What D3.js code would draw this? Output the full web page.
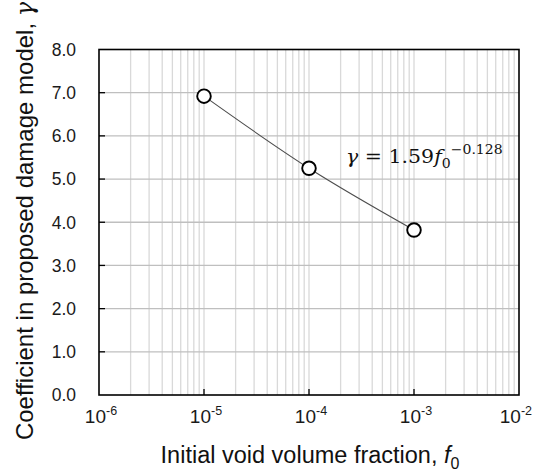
<!DOCTYPE html>
<html>
<head>
<meta charset="utf-8">
<script src="https://cdn.jsdelivr.net/npm/d3@7"></script>
<style>
  body { margin: 0; background: #fff; }
  text { font-family: "Liberation Sans", Arial, sans-serif; }
</style>
</head>
<body>
<script>
// data
var fracs = [1e-5, 1e-4, 1e-3];
var gammas = [6.92, 5.25, 3.82];
var yTicks = [0, 1, 2, 3, 4, 5, 6, 7, 8];
var xDecades = [-6, -5, -4, -3, -2];

var W = 533, H = 471;
var pLeft = 99, pRight = 519, pTop = 49.5, pBottom = 395;

var svg = d3.select("body").append("svg")
  .attr("width", W).attr("height", H);

var x = d3.scaleLog().domain([1e-6, 1e-2]).range([pLeft, pRight]);
var y = d3.scaleLinear().domain([0, 8]).range([pBottom, pTop]);

// vertical grid, every 1..9 of each decade
var minor = [];
for (var d = -6; d < -2; d++) {
  for (var k = 1; k < 10; k++) minor.push(k * Math.pow(10, d));
}
svg.append("g").selectAll("line")
  .data(minor.filter(function(v) { return v > 1e-6; }))
  .enter().append("line")
  .attr("x1", function(d) { return x(d); })
  .attr("x2", function(d) { return x(d); })
  .attr("y1", pTop).attr("y2", pBottom)
  .attr("stroke", "#d9d9d9").attr("stroke-width", 1.3);

// horizontal grid
svg.append("g").selectAll("line")
  .data(yTicks.slice(1, -1))
  .enter().append("line")
  .attr("x1", pLeft).attr("x2", pRight)
  .attr("y1", function(d) { return y(d); })
  .attr("y2", function(d) { return y(d); })
  .attr("stroke", "#bfbfbf").attr("stroke-width", 1.3);

// frame
svg.append("rect")
  .attr("x", pLeft).attr("y", pTop)
  .attr("width", pRight - pLeft).attr("height", pBottom - pTop)
  .attr("fill", "none").attr("stroke", "#000").attr("stroke-width", 1.6);

// inward ticks
svg.append("g").selectAll("line")
  .data(yTicks.slice(1, -1))
  .enter().append("line")
  .attr("x1", pLeft).attr("x2", pLeft + 6)
  .attr("y1", function(d) { return y(d); })
  .attr("y2", function(d) { return y(d); })
  .attr("stroke", "#000").attr("stroke-width", 1.3);
svg.append("g").selectAll("line")
  .data(xDecades.slice(1, -1))
  .enter().append("line")
  .attr("x1", function(d) { return x(Math.pow(10, d)); })
  .attr("x2", function(d) { return x(Math.pow(10, d)); })
  .attr("y1", pBottom).attr("y2", pBottom - 6)
  .attr("stroke", "#000").attr("stroke-width", 1.3);

// y tick labels
svg.append("g").selectAll("text")
  .data(yTicks)
  .enter().append("text")
  .attr("x", 76)
  .attr("y", function(d) { return y(d) + 6.3; })
  .attr("text-anchor", "end")
  .attr("font-size", 17.5)
  .attr("fill", "#1a1a1a")
  .text(function(d) { return d.toFixed(1); });

// x tick labels 10^n
var xl = svg.append("g").selectAll("text")
  .data(xDecades)
  .enter().append("text")
  .attr("y", 423)
  .attr("font-size", 19)
  .attr("fill", "#1a1a1a");
xl.append("tspan").text("10");
xl.append("tspan").attr("dy", -8).attr("font-size", 12.5).text(function(d) { return d; });
xl.each(function(d) {
  var w = this.getComputedTextLength();
  var cx = x(Math.pow(10, d)) + 2;
  var x0 = Math.min(cx - w / 2, W - 1 - w);
  d3.select(this).attr("x", x0);
});

// fit curve through the points
var pts = fracs.map(function(f, i) { return [f, gammas[i]]; });
svg.append("path")
  .datum(pts)
  .attr("d", d3.line()
    .x(function(d) { return x(d[0]); })
    .y(function(d) { return y(d[1]); })
    .curve(d3.curveNatural))
  .attr("fill", "none").attr("stroke", "#4d4d4d").attr("stroke-width", 1.1);

svg.append("g").selectAll("circle")
  .data(pts)
  .enter().append("circle")
  .attr("cx", function(d) { return x(d[0]); })
  .attr("cy", function(d) { return y(d[1]); })
  .attr("r", 6.8)
  .attr("fill", "#fff").attr("stroke", "#000").attr("stroke-width", 1.9);

// equation
var eq = svg.append("text")
  .attr("transform", "translate(346,162.5) scale(1.08,1)")
  .attr("font-size", 19)
  .style("font-family", "'DejaVu Serif', 'Liberation Serif', serif")
  .attr("fill", "#111");
eq.append("tspan").style("font-style", "italic").text("γ");
eq.append("tspan").text(" = 1.59");
eq.append("tspan").style("font-style", "italic").text("f");
eq.append("tspan").attr("dy", 5.5).attr("font-size", 13).text("0");
eq.append("tspan").attr("dy", -14).attr("font-size", 13).text("−0.128");

// axis titles
var xt = svg.append("text")
  .attr("x", 310).attr("y", 463)
  .attr("text-anchor", "middle")
  .attr("font-size", 23.5)
  .attr("fill", "#111");
xt.append("tspan").text("Initial void volume fraction, ");
xt.append("tspan").style("font-style", "italic").text("f");
xt.append("tspan").attr("dy", 6).attr("font-size", 16).text("0");

var yt = svg.append("text")
  .attr("transform", "translate(33,221) rotate(-90)")
  .attr("text-anchor", "middle")
  .attr("font-size", 24)
  .attr("fill", "#111");
yt.append("tspan").text("Coefficient in proposed damage model, ");
yt.append("tspan").style("font-style", "italic")
  .style("font-family", "'DejaVu Serif', serif").text("γ");
</script>
</body>
</html>
